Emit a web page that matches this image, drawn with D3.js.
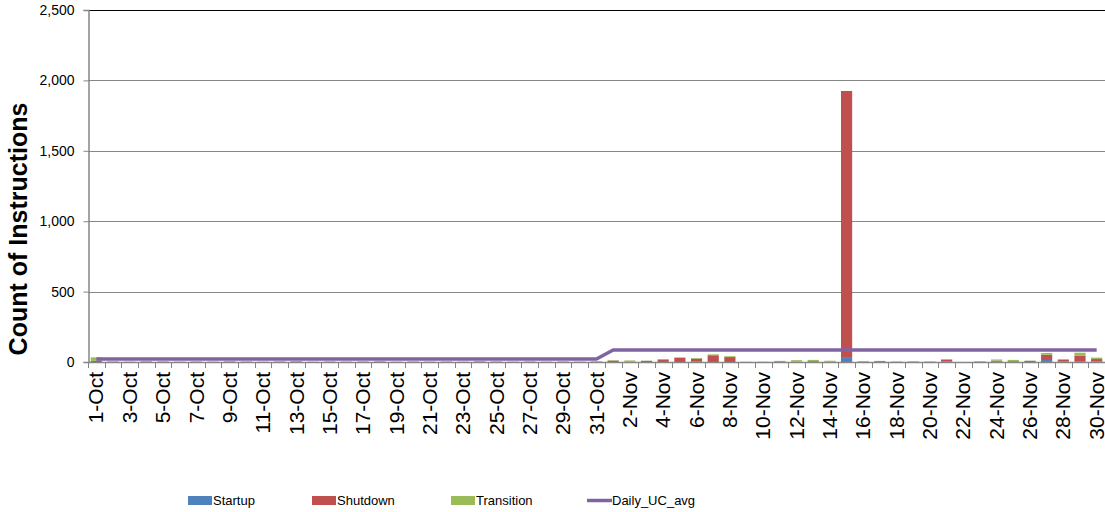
<!DOCTYPE html>
<html>
<head>
<meta charset="utf-8">
<script src="https://cdn.jsdelivr.net/npm/d3@7"></script>
<style>
  html, body { margin: 0; padding: 0; background: #fff; }
  svg { display: block; }
  text { font-family: "Liberation Sans", Arial, sans-serif; }
</style>
</head>
<body>
<svg id="chart" width="1105" height="512"></svg>
<script>
const categories = [
  "1-Oct","2-Oct","3-Oct","4-Oct","5-Oct","6-Oct","7-Oct","8-Oct","9-Oct","10-Oct",
  "11-Oct","12-Oct","13-Oct","14-Oct","15-Oct","16-Oct","17-Oct","18-Oct","19-Oct","20-Oct",
  "21-Oct","22-Oct","23-Oct","24-Oct","25-Oct","26-Oct","27-Oct","28-Oct","29-Oct","30-Oct","31-Oct",
  "1-Nov","2-Nov","3-Nov","4-Nov","5-Nov","6-Nov","7-Nov","8-Nov","9-Nov","10-Nov",
  "11-Nov","12-Nov","13-Nov","14-Nov","15-Nov","16-Nov","17-Nov","18-Nov","19-Nov","20-Nov",
  "21-Nov","22-Nov","23-Nov","24-Nov","25-Nov","26-Nov","27-Nov","28-Nov","29-Nov","30-Nov"
];
const startup = [
  0,0,0,0,0,0,0,0,0,0, 0,0,1,0,0,0,0,0,0,0, 0,0,0,0,0,0,0,0,0,0,0,
  0,0,0,0,0,2,0,0,0,0, 0,0,5,0,35,0,0,0,0,0, 2,0,0,2,4,0,14,2,6,3
];
const shutdown = [
  8,3,2,4,3,2,3,2,4,3, 2,3,4,2,3,2,3,4,2,3, 2,3,2,4,3,2,3,2,3,2,3,
  10,3,8,18,30,20,48,35,1,1, 5,3,2,3,1890,2,6,1,3,1, 15,0,1,8,3,8,38,15,40,18
];
const transition = [
  25,1,0,0,1,0,0,1,0,0, 0,1,0,0,0,1,0,0,0,0, 1,0,0,0,0,1,0,0,0,0,2,
  3,8,2,3,3,6,6,6,0,1, 3,10,8,6,0,5,2,3,1,3, 4,0,5,8,8,2,12,4,20,10
];
const dailyUcAvg = [
  21,21,21,21,21,21,21,21,21,21, 21,21,21,21,21,21,21,21,21,21, 21,21,21,21,21,21,21,21,21,21,21,
  85,85,85,85,85,85,85,85,85,85, 85,85,85,85,85,85,85,85,85,85, 85,85,85,85,85,85,85,85,85,85
];
const yTicks = [0, 500, 1000, 1500, 2000, 2500];
const seriesNames = ["Startup", "Shutdown", "Transition"];
const seriesColors = ["#4F81BD", "#C0504D", "#9BBB59"];
const lineName = "Daily_UC_avg";
const lineColor = "#8064A2";

const svg = d3.select("#chart");
const mLeft = 88, mRight = 1105, mTop = 10, mBottom = 362;

const x = d3.scaleBand().domain(categories).range([mLeft, mRight])
  .paddingInner(0.33).paddingOuter(0.165);
const y = d3.scaleLinear().domain([0, 2500]).range([mBottom, mTop]);

// gridlines
svg.append("g").selectAll("line").data(yTicks.filter(v => v > 0 && v < 2500)).join("line")
  .attr("x1", mLeft).attr("x2", mRight)
  .attr("y1", d => Math.round(y(d)) + 0.5).attr("y2", d => Math.round(y(d)) + 0.5)
  .attr("stroke", "#868686").attr("stroke-width", 1);
// top border
svg.append("line").attr("x1", mLeft).attr("x2", mRight)
  .attr("y1", Math.round(y(2500)) + 0.5).attr("y2", Math.round(y(2500)) + 0.5)
  .attr("stroke", "#000").attr("stroke-width", 1);

// stacked bars
const rows = categories.map((c, i) => ({cat: c, Startup: startup[i], Shutdown: shutdown[i], Transition: transition[i]}));
const stacked = d3.stack().keys(seriesNames)(rows);
svg.append("g").selectAll("g").data(stacked).join("g")
  .attr("fill", (d, i) => seriesColors[i])
  .selectAll("rect").data(d => d).join("rect")
  .attr("x", d => x(d.data.cat))
  .attr("width", x.bandwidth())
  .attr("y", d => y(d[1]))
  .attr("height", d => Math.max(0, y(d[0]) - y(d[1])));

// y axis
const yAxis = d3.axisLeft(y).tickValues(yTicks).tickFormat(d3.format(",")).tickSize(5).tickPadding(9);
const ga = svg.append("g").attr("transform", `translate(${mLeft + 0.5},0)`).call(yAxis);
ga.select(".domain").attr("stroke", "#868686").attr("stroke-width", 1.5);
ga.selectAll(".tick line").attr("stroke", "#868686");
ga.selectAll(".tick text").attr("font-size", 14).attr("fill", "#000")
  .style("font-family", "'Liberation Sans', Arial, sans-serif");

// x axis baseline
svg.append("line").attr("x1", mLeft).attr("x2", mRight)
  .attr("y1", mBottom + 0.5).attr("y2", mBottom + 0.5)
  .attr("stroke", "#868686").attr("stroke-width", 1.5);
// boundary ticks
const step = x.step();
const bounds = categories.map(c => x(c) - step * x.paddingInner() / 2).concat([mRight]);
svg.append("g").selectAll("line").data(bounds).join("line")
  .attr("x1", d => Math.round(d) + 0.5).attr("x2", d => Math.round(d) + 0.5)
  .attr("y1", mBottom).attr("y2", mBottom + 6)
  .attr("stroke", "#868686").attr("stroke-width", 1);

// x labels (every other category)
const xAxis = d3.axisBottom(x).tickValues(categories.filter((c, i) => i % 2 === 0)).tickSize(0).tickPadding(0);
const gx = svg.append("g").attr("transform", `translate(0,${mBottom})`).call(xAxis);
gx.select(".domain").remove();
gx.selectAll(".tick text")
  .attr("font-size", 21).attr("fill", "#000")
  .style("font-family", "'Liberation Sans', Arial, sans-serif")
  .attr("text-anchor", "end")
  .attr("transform", "rotate(-90)")
  .attr("x", -10).attr("y", 0).attr("dy", "0.34em");

// line
const line = d3.line().x((d, i) => x(categories[i]) + x.bandwidth() / 2).y(d => y(d));
svg.append("path").datum(dailyUcAvg).attr("d", line)
  .attr("fill", "none").attr("stroke", lineColor).attr("stroke-width", 3.5)
  .attr("stroke-linejoin", "round");

// y title
svg.append("text").attr("transform", `translate(27,${(mTop + mBottom) / 2 + 43}) rotate(-90)`)
  .attr("text-anchor", "middle").attr("font-size", 25).attr("font-weight", "bold")
  .text("Count of Instructions");

// legend
const legendItems = [
  {name: seriesNames[0], color: seriesColors[0], type: "rect", x: 188},
  {name: seriesNames[1], color: seriesColors[1], type: "rect", x: 312},
  {name: seriesNames[2], color: seriesColors[2], type: "rect", x: 451},
  {name: lineName, color: lineColor, type: "line", x: 587}
];
const lg = svg.append("g");
legendItems.forEach(it => {
  if (it.type === "rect") {
    lg.append("rect").attr("x", it.x).attr("y", 496).attr("width", 24).attr("height", 9).attr("fill", it.color);
  } else {
    lg.append("line").attr("x1", it.x).attr("x2", it.x + 25).attr("y1", 500.5).attr("y2", 500.5)
      .attr("stroke", it.color).attr("stroke-width", 3.5);
  }
  lg.append("text").attr("x", it.x + 25).attr("y", 505).attr("font-size", 13).text(it.name);
});
</script>
</body>
</html>
